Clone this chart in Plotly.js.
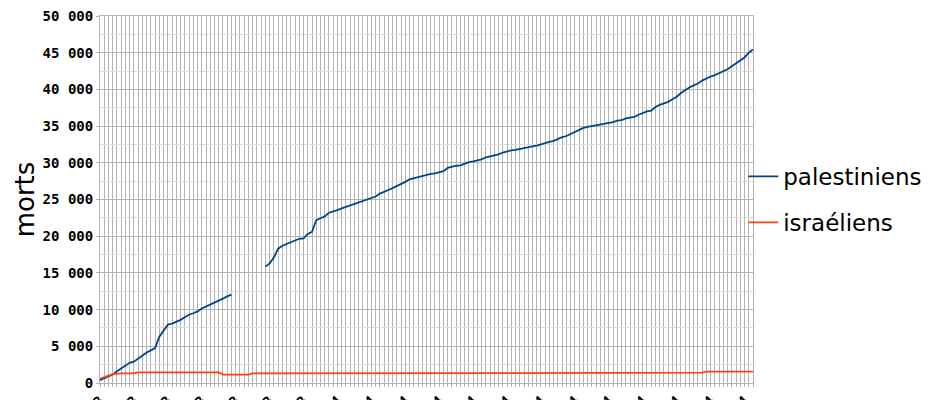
<!DOCTYPE html>
<html>
<head>
<meta charset="utf-8">
<script src="https://cdn.plot.ly/plotly-3.0.1.min.js"></script>
<style>html,body{margin:0;padding:0;background:#fff;}#chart{width:942px;height:400px;}</style>
</head>
<body>
<div id="chart"></div>
<script>
// Palestinian deaths per reporting point (null = no report)
const palestiniens = [
  400,650,850,1150,1600,2000,2450,2750,2900,3350,
  3800,4150,4450,4750,6300,7200,7950,8100,8300,8600,
  8950,9300,9500,9750,10150,10400,10700,10950,11250,11500,
  11800,12050,null,null,null,null,null,null,null,15850,
  16300,17100,18300,18700,18950,19200,19400,19650,19700,20300,
  20600,22200,22450,22700,23200,23350,23550,23800,24000,24200,
  24350,24500,24700,24900,25100,25400,25800,26100,26300,26550,
  26800,27050,27400,27750,27900,28100,28300,28450,28500,28550,
  28700,28850,29300,29500,29600,29650,29900,30100,30200,30300,
  30450,30750,30850,30950,31150,31400,31600,31700,31750,31900,
  32050,32200,32250,32350,32550,32750,32850,33000,33300,33500,
  33650,33950,34150,34450,34750,34900,35000,35100,35250,35300,
  35450,35550,35750,35800,36050,36200,36250,36550,36800,37000,
  37100,37600,37900,38050,38300,38650,39000,39500,39900,40250,
  40550,40800,41200,41500,41750,41950,42200,42400,42750,43150,
  43550,43900,44350,45000,45450
];
// Israeli deaths
const israeliens = [
  600,850,1000,1200,1300,1300,1300,1300,1300,1450,
  1450,1450,1450,1450,1450,1450,1450,1450,1450,1450,
  1450,1450,1450,1450,1450,1450,1450,1450,1450,1150,
  1150,1150,1150,1150,1150,1150,1300,1300,1300,1300,
  1300,1300,1300,1300,1300,1300,1300,1300,1300,1300,
  1300,1300,1300,1300,1300,1300,1300,1300,1300,1300,
  1300,1300,1300,1300,1300,1300,1300,1300,1300,1400,
  1400,1400,1400,1400,1400,1400,1400,1400,1400,1400,
  1400,1400,1400,1400,1400,1400,1400,1400,1400,1400,
  1400,1400,1400,1400,1400,1400,1400,1400,1400,1400,
  1400,1400,1400,1400,1400,1400,1400,1400,1400,1400,
  1400,1400,1400,1400,1400,1400,1400,1400,1400,1400,
  1400,1400,1400,1400,1400,1400,1400,1400,1400,1400,
  1400,1400,1400,1400,1400,1400,1400,1400,1400,1400,
  1400,1400,1400,1550,1550,1550,1550,1550,1550,1550,
  1550,1550,1550,1550,1550
];
// Tick labels (every 8th reporting point)
const tickPositions = [0,8,16,24,32,40,48,56,64,72,80,88,96,104,112,120,128,136,144,152];
const tickLabels = [
  "07/10/2023","15/10/2023","28/10/2023","06/11/2023","20/11/2023",
  "06/12/2023","18/12/2023","08/01/2024","20/01/2024","06/02/2024",
  "16/02/2024","02/03/2024","16/03/2024","01/04/2024","20/04/2024",
  "15/05/2024","20/06/2024","28/07/2024","10/10/2024","01/12/2024"
];
const seriesNames = ["palestiniens","israéliens"];
const yTitle = "morts";

const idx = palestiniens.map((_, i) => i);
const grid = '#b3b3b3';

const traces = [
  {x: idx, y: palestiniens, name: seriesNames[0], legendgroup: 'a', type: 'scatter', mode: 'lines',
   line: {color: '#004586', width: 1.8}, connectgaps: false, hoverinfo: 'y'},
  {x: idx, y: israeliens, name: seriesNames[1], legendgroup: 'b', type: 'scatter', mode: 'lines',
   line: {color: '#ff420e', width: 1.8}, hoverinfo: 'y'}
];

const layout = {
  width: 942, height: 400,
  margin: {l: 100, r: 189, t: 16, b: 16.5, pad: 0},
  paper_bgcolor: '#ffffff', plot_bgcolor: '#ffffff',
  separators: ', ',
  showlegend: true,
  legend: {x: 0.985, xanchor: 'left', xref: 'paper', y: 0.5, yanchor: 'middle',
           font: {family: 'DejaVu Sans', size: 23, color: '#000'},
           traceorder: 'grouped', tracegroupgap: 13, bgcolor: 'rgba(0,0,0,0)', itemwidth: 30},
  xaxis: {
    range: [0, 154], tickmode: 'array', tickvals: tickPositions, ticktext: tickLabels,
    tickangle: -45, tickfont: {family: 'DejaVu Sans Mono', size: 14, color: '#000', weight: 'bold'},
    showgrid: true, gridcolor: grid, gridwidth: 1,
    minor: {tickmode: 'linear', tick0: 0, dtick: 1, showgrid: true, gridcolor: grid, gridwidth: 1, ticks: 'outside', ticklen: 3, tickcolor: grid},
    ticks: 'outside', ticklen: 3, tickcolor: grid,
    showline: true, linecolor: grid, mirror: true, zeroline: false, automargin: false
  },
  yaxis: {
    range: [0, 50000], tickmode: 'linear', tick0: 0, dtick: 5000, tickformat: ',d',
    tickfont: {family: 'DejaVu Sans Mono', size: 14, color: '#000', weight: 'bold'},
    showgrid: true, gridcolor: grid, gridwidth: 1,
    minor: {tickmode: 'linear', tick0: 0, dtick: 2500, showgrid: true, gridcolor: '#dddddd', gridwidth: 1},
    ticks: 'outside', ticklen: 3, tickcolor: grid,
    showline: true, linecolor: grid, mirror: true, zeroline: false, automargin: false,
    title: {text: yTitle, font: {family: 'DejaVu Sans', size: 26, color: '#000'}, standoff: 0}
  }
};

Plotly.newPlot('chart', traces, layout, {displayModeBar: false, staticPlot: true});
</script>
</body>
</html>
